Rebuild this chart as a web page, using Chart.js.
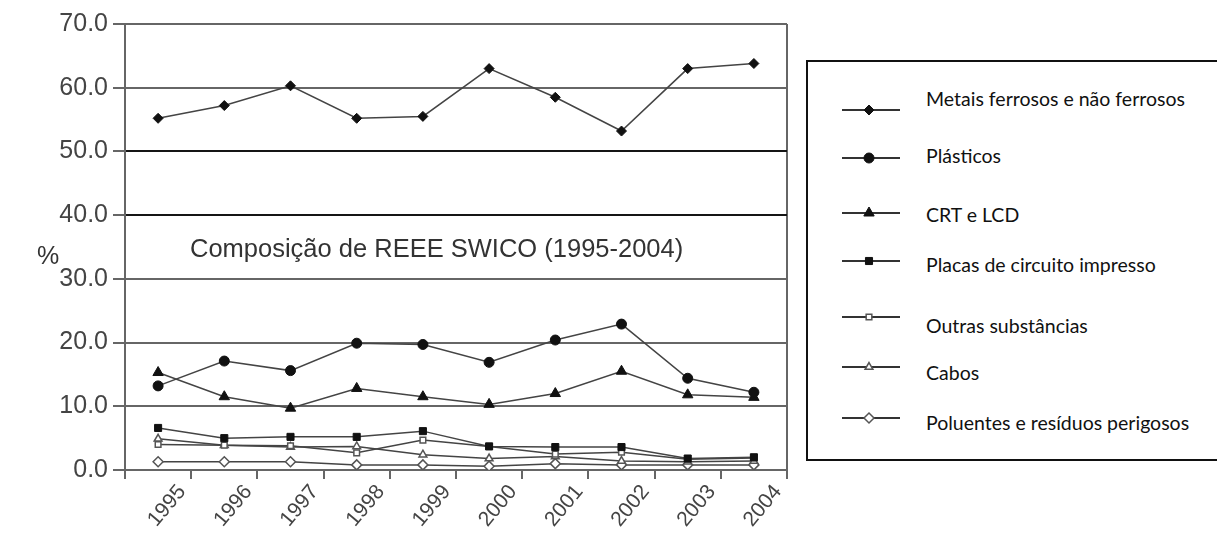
<!DOCTYPE html>
<html>
<head>
<meta charset="utf-8">
<script src="https://cdn.jsdelivr.net/npm/chart.js@4.4.1/dist/chart.umd.min.js"></script>
<style>
  html, body { margin: 0; padding: 0; background: #fff; overflow: hidden; }
  #wrap { position: absolute; left: 0; top: 0; width: 800px; height: 536px; }
  #legend { position: absolute; left: 806px; top: 60px; width: 440px; height: 401px;
            border: 2px solid #111; box-sizing: border-box; }
  #legend canvas { position: absolute; left: 34px; }
  #legend span { position: absolute; left: 118px; font: 19.5px Lato, "Open Sans", sans-serif;
                 color: #111; white-space: nowrap; line-height: 24px; }
</style>
</head>
<body>
<div id="wrap"><canvas id="chart" width="800" height="536"></canvas></div>
<div id="legend"></div>
<script>
(function () {
  'use strict';

  var YEARS = ['1995', '1996', '1997', '1998', '1999', '2000', '2001', '2002', '2003', '2004'];

  var METAIS    = [55.2, 57.2, 60.3, 55.2, 55.5, 63.0, 58.5, 53.2, 63.0, 63.8];
  var PLASTICOS = [13.2, 17.1, 15.6, 19.9, 19.7, 16.9, 20.4, 22.9, 14.4, 12.2];
  var CRT       = [15.3, 11.5, 9.7, 12.8, 11.5, 10.3, 12.0, 15.5, 11.8, 11.4];
  var PLACAS    = [6.6, 5.0, 5.2, 5.2, 6.1, 3.7, 3.6, 3.6, 1.8, 2.0];
  var OUTRAS    = [4.0, 3.9, 3.8, 2.7, 4.7, 3.7, 2.5, 2.8, 1.7, 1.9];
  var CABOS     = [4.9, 3.9, 3.6, 3.7, 2.4, 1.8, 2.1, 1.4, 1.3, 1.4];
  var POLUENTES = [1.3, 1.3, 1.3, 0.8, 0.8, 0.6, 1.0, 0.8, 0.8, 0.8];

  var Y_TICKS = [0, 10, 20, 30, 40, 50, 60, 70];

  var TITLE = 'Composição de REEE SWICO (1995-2004)';
  var FONT = '"Liberation Sans", Arial, sans-serif';

  var C = {
    line: '#444',
    ink: '#111',
    open: '#555',
    grid: '#666',
    gridDark: '#151515',
    text: '#444'
  };

  function series(label, data, style, radius, filled) {
    return {
      label: label,
      data: data,
      borderColor: C.line,
      borderWidth: 1.5,
      pointStyle: style,
      pointRadius: radius,
      pointBorderWidth: filled ? 1 : 1.5,
      pointBorderColor: filled ? C.ink : C.open,
      pointBackgroundColor: filled ? C.ink : '#fff',
      tension: 0,
      fill: false
    };
  }

  var datasets = [
    series('Metais ferrosos e não ferrosos', METAIS, 'rectRot', 5, true),
    series('Plásticos', PLASTICOS, 'circle', 5, true),
    series('CRT e LCD', CRT, 'triangle', 6, true),
    series('Placas de circuito impresso', PLACAS, 'rect', 5, true),
    series('Outras substâncias', OUTRAS, 'rect', 4, false),
    series('Cabos', CABOS, 'triangle', 4.5, false),
    series('Poluentes e resíduos perigosos', POLUENTES, 'rectRot', 5, false)
  ];

  // title inside plot + unrotated "%" axis title
  var annot = {
    id: 'annot',
    afterDraw: function (chart) {
      var ctx = chart.ctx;
      var area = chart.chartArea;
      var y = chart.scales.y;
      ctx.save();
      ctx.fillStyle = '#333';
      ctx.font = '25.5px ' + FONT;
      ctx.textBaseline = 'middle';
      ctx.textAlign = 'left';
      ctx.fillText(TITLE, area.left + 65, y.getPixelForValue(34.6));
      ctx.font = '25px ' + FONT;
      ctx.fillText('%', 37, y.getPixelForValue(33.4));
      ctx.restore();
    }
  };

  new Chart(document.getElementById('chart'), {
    type: 'line',
    data: { labels: YEARS, datasets: datasets },
    options: {
      responsive: false,
      animation: false,
      layout: { padding: { top: 24, right: 13, left: 0, bottom: 0 } },
      plugins: {
        legend: { display: false },
        tooltip: { enabled: false }
      },
      scales: {
        x: {
          type: 'category',
          offset: true,
          grid: {
            offset: true,
            drawOnChartArea: true,
            color: function (ctx) { return ctx.type === 'tick' ? 'rgba(0,0,0,0)' : C.grid; },
            tickColor: C.grid,
            tickLength: 9,
            lineWidth: 2
          },
          border: { display: true, color: C.grid, width: 2 },
          ticks: {
            color: C.text,
            font: { size: 21, family: FONT },
            minRotation: 50,
            maxRotation: 50,
            labelOffset: 24,
            padding: 1
          },
          afterFit: function (s) { s.height = 66; s.paddingLeft = 0; s.paddingRight = 0; }
        },
        y: {
          min: 0,
          max: 70,
          afterBuildTicks: function (s) { s.ticks = Y_TICKS.map(function (v) { return { value: v }; }); },
          grid: {
            color: function (ctx) {
              var v = ctx.tick ? ctx.tick.value : 0;
              return (v === 40 || v === 50) ? C.gridDark : C.grid;
            },
            tickColor: C.grid,
            tickLength: 12,
            lineWidth: 2
          },
          border: { display: true, color: C.grid, width: 2 },
          ticks: {
            color: C.text,
            font: { size: 25, family: FONT },
            padding: 5,
            callback: function (v) { return Number(v).toFixed(1); }
          },
          afterFit: function (s) { s.width = 125; s.paddingTop = 0; s.paddingBottom = 0; }
        }
      }
    },
    plugins: [annot]
  });

  // legend box with library-drawn markers; rows as placed in the source figure
  var SAMPLE_Y = [110, 158, 213, 261, 317, 367, 418];
  var TEXT_Y = [99, 156, 215, 265, 326, 373, 423];
  var legend = document.getElementById('legend');
  var boxTop = 62;
  datasets.forEach(function (ds, i) {
    var cv = document.createElement('canvas');
    cv.width = 58; cv.height = 20;
    cv.style.top = (SAMPLE_Y[i] - boxTop - 10) + 'px';
    var c = cv.getContext('2d');
    c.strokeStyle = '#333';
    c.lineWidth = 2;
    c.beginPath(); c.moveTo(0, 10); c.lineTo(58, 10); c.stroke();
    c.fillStyle = ds.pointBackgroundColor;
    c.strokeStyle = ds.pointBorderColor;
    c.lineWidth = ds.pointBorderWidth;
    Chart.helpers.drawPoint(c, { pointStyle: ds.pointStyle, radius: ds.pointRadius, borderWidth: ds.pointBorderWidth, rotation: 0 }, 27, 10);
    var sp = document.createElement('span');
    sp.textContent = ds.label;
    sp.style.top = (TEXT_Y[i] - boxTop - 12) + 'px';
    legend.appendChild(cv);
    legend.appendChild(sp);
  });
})();
</script>
</body>
</html>
